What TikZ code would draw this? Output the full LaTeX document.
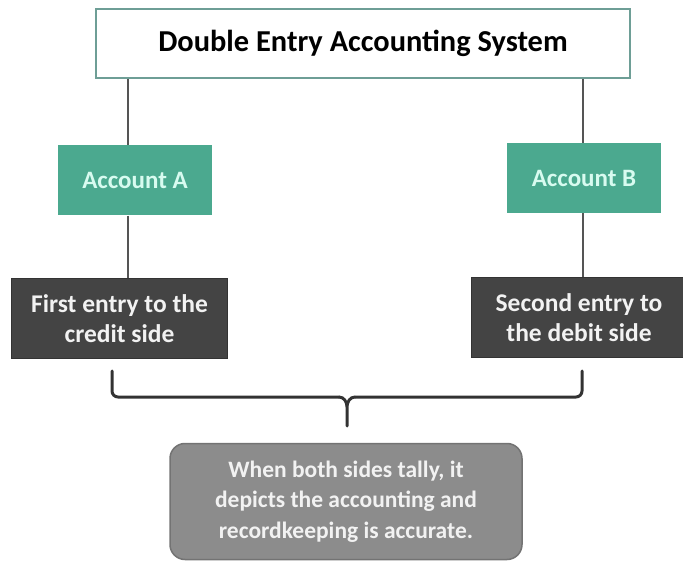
\documentclass[tikz,border=0pt]{standalone}
\usepackage{fontspec}
\setmainfont{Carlito}
\usetikzlibrary{positioning}

\definecolor{titleedge}{HTML}{6E9E96}
\definecolor{accgreen}{HTML}{4BA98F}
\definecolor{acctext}{HTML}{D8FBF0}
\definecolor{entrygray}{HTML}{444444}
\definecolor{resultgray}{HTML}{8C8C8C}
\definecolor{linkgray}{HTML}{555555}

\begin{document}
\begin{tikzpicture}[%
    x=1pt, y=-1pt,
    every node/.style={align=center, inner sep=0pt},
    titlebox/.style={draw=titleedge, line width=2pt, minimum width=534pt,
      minimum height=69pt, font=\bfseries\fontsize{30.4}{36}\selectfont},
    account/.style={fill=accgreen, minimum width=154pt, minimum height=70pt,
      text=acctext, font=\bfseries\fontsize{25}{30}\selectfont},
    entry/.style={fill=entrygray, draw=black!80, minimum width=216pt,
      minimum height=80pt, text=white!95!black,
      font=\bfseries\fontsize{25.5}{30}\selectfont},
    result/.style={fill=resultgray, draw=black!55, line width=1.5pt,
      rounded corners=15pt, minimum width=352pt, minimum height=116pt,
      text=white!95!black, font=\bfseries\fontsize{23.5}{30.5}\selectfont},
    link/.style={draw=linkgray, line width=2pt},
    bracket/.style={draw=black!80, line width=3pt, line cap=round}
  ]
    \useasboundingbox (0,0) rectangle (683,561);

    \node[titlebox] (sys) at (363,43.5) {Double Entry Accounting System};
    \node[account] (A) at (135,180.5) {Account A};
    \node[account] (B) at (584,178) {Account B};
    \node[entry] (credit) at (119.5,318.5) {First entry to the\\credit side};
    \node[entry] (debit) at (579,317.5) {Second entry to\\the debit side};
    \node[result] (tally) at (346,501.5)
      {When both sides tally, it\\depicts the accounting and\\recordkeeping is accurate.};

    \coordinate (colA) at (128,0);
    \coordinate (colB) at (583,0);

    \path[link] (sys.south -| colA) -- (A.north -| colA)
                (A.south -| colA) -- (credit.north -| colA)
                (sys.south -| colB) -- (B.north -| colB)
                (B.south -| colB) -- (debit.north -| colB);

    % bracket joining both entries
    \draw[bracket, rounded corners=6pt] (112,371) -- (112,397) -- (339,397);
    \draw[bracket, rounded corners=6pt] (582,371) -- (582,397) -- (355,397);
    \draw[bracket] (339,397) to[out=0,in=90] (347,407) -- (347,426)
                   (355,397) to[out=180,in=90] (347,407);
  \end{tikzpicture}
\end{document}
